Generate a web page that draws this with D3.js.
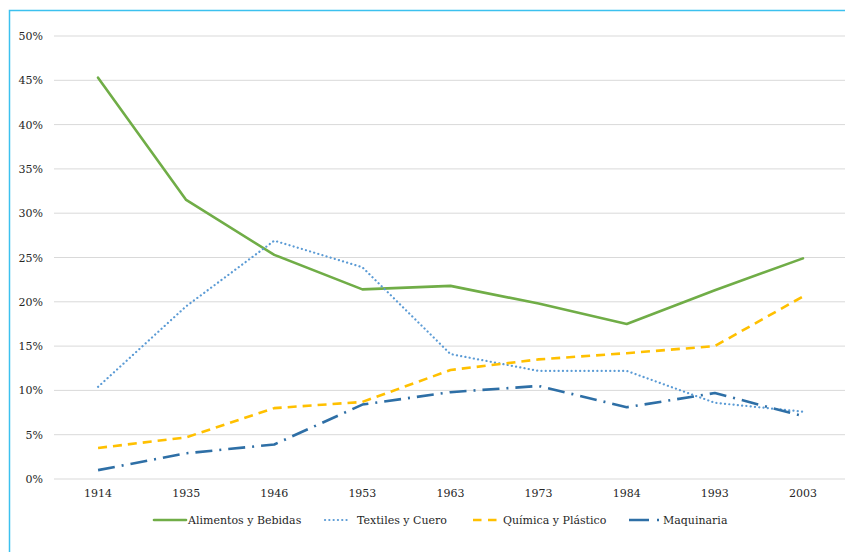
<!DOCTYPE html>
<html>
<head>
  <meta charset="utf-8">
  <script src="https://d3js.org/d3.v7.min.js"></script>
  <style>
    body { margin:0; background:#fff; }
  </style>
</head>
<body>
  <script>
    var years = ["1914","1935","1946","1953","1963","1973","1984","1993","2003"];
    var alimentos = [45.3, 31.5, 25.3, 21.4, 21.8, 19.8, 17.5, 21.3, 24.9];
    var textiles  = [10.4, 19.5, 26.9, 23.9, 14.1, 12.2, 12.2, 8.6, 7.6];
    var quimica   = [3.5, 4.7, 8.0, 8.7, 12.3, 13.5, 14.2, 15.0, 20.6];
    var maquinaria = [1.0, 2.9, 3.9, 8.4, 9.8, 10.5, 8.1, 9.7, 7.1];
    var yTicks = [0, 5, 10, 15, 20, 25, 30, 35, 40, 45, 50];
    var seriesNames = ["Alimentos y Bebidas", "Textiles y Cuero", "Química y Plástico", "Maquinaria"];

    var FONT = "'DejaVu Serif', serif";
    var W = 845, H = 552;
    var svg = d3.select("body").append("svg")
        .attr("width", W).attr("height", H);

    // frame
    svg.append("path")
        .attr("d", "M9.5," + H + "V10.5H" + W)
        .attr("fill", "none").attr("stroke", "#3cc1ef").attr("stroke-width", 1.5);

    var x = d3.scaleBand().domain(years).range([54, 847]);
    var y = d3.scaleLinear().domain([0, 50]).range([479, 36]);

    svg.append("g").selectAll("line").data(yTicks).enter().append("line")
        .attr("x1", 54).attr("x2", 847)
        .attr("y1", d => y(d)).attr("y2", d => y(d))
        .attr("stroke", "#d9d9d9").attr("stroke-width", 1);

    svg.append("g").selectAll("text").data(yTicks).enter().append("text")
        .attr("x", 43).attr("y", d => y(d) + 4)
        .attr("text-anchor", "end")
        .attr("font-family", FONT).attr("font-size", "11px").attr("fill", "#262626")
        .text(d => d + "%");

    svg.append("g").selectAll("text").data(years).enter().append("text")
        .attr("x", d => x(d) + x.bandwidth() / 2).attr("y", 497)
        .attr("text-anchor", "middle")
        .attr("font-family", FONT).attr("font-size", "11px").attr("fill", "#262626")
        .text(d => d);

    var styles = [
      {color:"#70ad47", dash:null, cap:"round"},
      {color:"#5b9bd5", dash:"0.1,4.2", cap:"round"},
      {color:"#ffc000", dash:"9,6", cap:"butt"},
      {color:"#2e6fa6", dash:"17,7,2,7", cap:"butt"}
    ];
    var allSeries = [alimentos, textiles, quimica, maquinaria];

    var line = d3.line()
        .x((d, i) => x(years[i]) + x.bandwidth() / 2)
        .y(d => y(d));

    allSeries.forEach(function(s, k) {
      svg.append("path")
          .datum(s)
          .attr("fill", "none")
          .attr("stroke", styles[k].color)
          .attr("stroke-width", k === 1 ? 2.2 : 2.6)
          .attr("stroke-linecap", styles[k].cap)
          .attr("stroke-linejoin", "round")
          .attr("stroke-dasharray", styles[k].dash)
          .attr("d", line);
    });

    // legend
    var legX = [154, 325, 473, 629];
    var legDash = [null, "0.1,4.2", "8.5,6.5", "20,8,2,20"];
    var legLen = [32, 25, 24, 31];
    var legText = [34, 32, 30, 34];
    var leg = svg.append("g").selectAll("g").data(seriesNames).enter().append("g")
        .attr("transform", (d, i) => "translate(" + legX[i] + ",520)");
    leg.append("line")
        .attr("x1", 0).attr("x2", (d, i) => legLen[i])
        .attr("y1", 0).attr("y2", 0)
        .attr("stroke", (d, i) => styles[i].color)
        .attr("stroke-width", (d, i) => i === 1 ? 2.2 : 2.6)
        .attr("stroke-linecap", (d, i) => styles[i].cap)
        .attr("stroke-dasharray", (d, i) => legDash[i]);
    leg.append("text")
        .attr("x", (d, i) => legText[i]).attr("y", 4)
        .attr("font-family", FONT).attr("font-size", "11px").attr("fill", "#262626")
        .text(d => d);
  </script>
</body>
</html>
